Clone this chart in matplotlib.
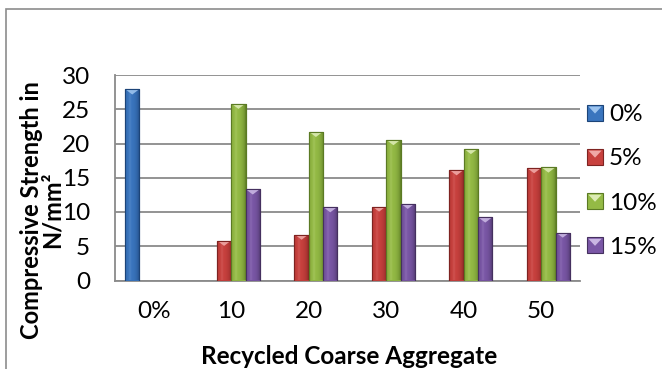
import numpy as np
import matplotlib.pyplot as plt
from matplotlib.colors import to_rgb
from matplotlib.patches import Rectangle, Polygon
from matplotlib.legend_handler import HandlerBase

# compressive strength (N/mm^2) by recycled coarse aggregate content
categories = ['0%', '10', '20', '30', '40', '50']
series_names = ['0%', '5%', '10%', '15%']
strength_0 = [27.9, 0, 0, 0, 0, 0]
strength_5 = [0, 5.8, 6.7, 10.8, 16.1, 16.4]
strength_10 = [0, 25.8, 21.7, 20.5, 19.2, 16.5]
strength_15 = [0, 13.3, 10.7, 11.2, 9.2, 7.0]

# base, edge, highlight colours per series
palette = {
    '0%': ('#3A75BE', '#1C4478', '#9CC3EE'),
    '5%': ('#C8413E', '#7E2321', '#F0A8A6'),
    '10%': ('#94BA45', '#5B7A24', '#DCEBB4'),
    '15%': ('#7A57A6', '#45305F', '#C9B6E3'),
}

plt.rcParams['font.family'] = ['Lato', 'DejaVu Sans']

fig = plt.figure(figsize=(6.62, 3.69), dpi=100)
ax = fig.add_axes([115 / 662, 1 - 280.5 / 369, 465 / 662, 205.5 / 369])

x = np.arange(len(categories))
width = 0.185
all_series = [strength_0, strength_5, strength_10, strength_15]


def bar_gradient(base, dark, light, n=40):
    t = np.linspace(0, 1, n)
    f = np.clip(1 - ((t - 0.38) / 0.62) ** 2, 0, 1) ** 0.6
    b, d, l = np.array(to_rgb(base)), np.array(to_rgb(dark)), np.array(to_rgb(light))
    cols = d[None, :] * (1 - f[:, None]) + b[None, :] * f[:, None]
    shine = np.clip(1 - np.abs(t - 0.33) / 0.12, 0, 1) * 0.18
    cols = cols * (1 - shine[:, None]) + l[None, :] * shine[:, None]
    return cols[None, :, :]


for i, (name, values) in enumerate(zip(series_names, all_series)):
    base, dark, light = palette[name]
    bars = ax.bar(x + (i - 1.5) * width, values, width, color=base,
                  edgecolor=dark, linewidth=0.8, zorder=3)
    grad = bar_gradient(base, dark, light)
    for rect, v in zip(bars, values):
        if v <= 0:
            rect.set_visible(False)
            continue
        x0, w = rect.get_x(), rect.get_width()
        im = ax.imshow(grad, extent=(x0, x0 + w, 0, v), aspect='auto',
                       zorder=3.5, interpolation='bilinear')
        im.set_clip_path(rect)
        tip = Polygon([(x0 + w * 0.08, v - 0.08), (x0 + w * 0.92, v - 0.08),
                       (x0 + w / 2, v - 0.75)], closed=True,
                      facecolor=light, edgecolor='none', alpha=0.9, zorder=4)
        ax.add_patch(tip)
        ax.add_patch(Rectangle((x0, 0), w, v, fill=False, edgecolor=dark,
                               linewidth=0.8, zorder=4.5))

ax.set_xlim(-0.5, len(categories) - 0.5)
ax.set_ylim(0, 30)
ax.set_yticks(np.arange(0, 31, 5))
ax.set_xticks(x)
ax.set_xticklabels(categories)
ax.tick_params(axis='both', length=0, labelsize=17.5, colors='black')
ax.tick_params(axis='y', pad=18)
ax.tick_params(axis='x', pad=15)
ax.yaxis.grid(True, color='#8a8a8a', linewidth=1.3, zorder=0)
ax.set_axisbelow(True)
for side in ['top', 'right']:
    ax.spines[side].set_visible(False)
for side in ['left', 'bottom']:
    ax.spines[side].set_color('#8a8a8a')
    ax.spines[side].set_linewidth(1.3)


class BevelHandler(HandlerBase):
    def create_artists(self, legend, orig_handle, xdescent, ydescent,
                       width, height, fontsize, trans):
        base, dark, light = palette[orig_handle.get_label()]
        x0, y0 = -xdescent, -ydescent
        box = Rectangle((x0, y0), width, height, facecolor=base,
                        edgecolor=dark, linewidth=0.8, transform=trans)
        tip = Polygon([(x0 + 1, y0 + height - 1), (x0 + width - 1, y0 + height - 1),
                       (x0 + width / 2, y0 + height * 0.45)], closed=True,
                      facecolor=light, edgecolor='none', transform=trans)
        return [box, tip]


handles = [Rectangle((0, 0), 1, 1, label=n) for n in series_names]
fig.legend(handles=handles, labels=series_names, loc='center left',
           bbox_to_anchor=(587 / 662, 1 - 181 / 369), frameon=False,
           fontsize=17.5, borderpad=0, borderaxespad=0, labelspacing=0.95,
           handlelength=0.66, handleheight=0.6, handletextpad=0.25,
           handler_map={Rectangle: BevelHandler()})

fig.text(42 / 662, 1 - 210 / 369, 'Compressive Strength in\nN/mm²',
         rotation=90, ha='center', va='center', fontsize=17,
         fontweight='bold', linespacing=0.9)
fig.text(349 / 662, 1 - 356 / 369, 'Recycled Coarse Aggregate',
         ha='center', va='center', fontsize=17.5, fontweight='bold')

# chart area frame
fig.add_artist(Rectangle((6 / 662, -0.2), 1.2, 1.2 - 9 / 369, fill=False,
                         edgecolor='#8c8c8c', linewidth=1.2,
                         transform=fig.transFigure))

fig.savefig('out.png', dpi=100)
